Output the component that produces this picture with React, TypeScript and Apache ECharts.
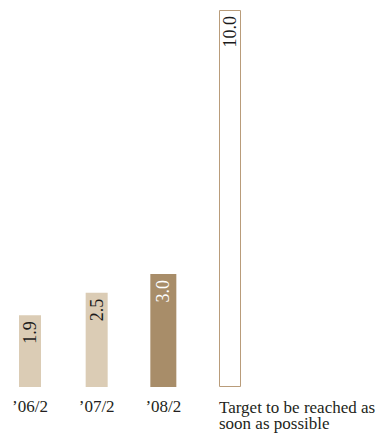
import React, { useEffect, useRef } from 'react';
import * as echarts from 'echarts';

const categories = ['’06/2', '’07/2', '’08/2', 'Target to be reached as\nsoon as possible'];
const values = [1.9, 2.5, 3.0, 10.0];
const highlightIndex = 2;

const LIGHT = '#dbccb5';
const DARK = '#a88d69';
const BORDER = '#b99c7a';
const FONT = '"Liberation Serif", "Times New Roman", serif';

export default function App() {
  const ref = useRef<HTMLDivElement>(null);
  useEffect(() => {
    const chart = echarts.init(ref.current!, null, { renderer: 'svg' });
    const labelBase = {
      show: true,
      position: 'insideTop',
      rotate: 90,
      align: 'right',
      verticalAlign: 'middle',
      distance: 6,
      fontSize: 18,
      fontFamily: FONT,
      formatter: (p: any) => Number(p.value).toFixed(1),
    };
    const mainData = values.map((v, i) => {
      if (i === highlightIndex) return '-';
      if (i === values.length - 1) {
        return {
          value: v,
          itemStyle: { color: '#ffffff', borderColor: BORDER, borderWidth: 1 },
          label: { color: '#1a1a1a' },
        };
      }
      return { value: v, itemStyle: { color: LIGHT }, label: { color: '#1a1a1a' } };
    });
    const hlData = values.map((v, i) =>
      i === highlightIndex ? { value: v, itemStyle: { color: DARK }, label: { color: '#ffffff' } } : '-'
    );
    const catData = categories.map((c, i) =>
      i === categories.length - 1
        ? { value: c, textStyle: { align: 'left', fontSize: 17, lineHeight: 16, padding: [1, 0, 0, -11] } }
        : c
    );
    chart.setOption({
      animation: false,
      grid: { left: -3.33, width: 266.67, top: 10, bottom: 46, outerBoundsMode: 'none', containLabel: false },
      xAxis: [
        {
          type: 'category',
          data: catData,
          axisLine: { show: false },
          axisTick: { show: false },
          axisLabel: {
            interval: 0,
            fontSize: 17,
            lineHeight: 17,
            margin: 11,
            color: '#231f20',
            fontFamily: FONT,
          },
        },
        { type: 'category', data: categories, show: false },
      ],
      yAxis: { type: 'value', min: 0, max: 10, show: false },
      series: [
        { type: 'bar', xAxisIndex: 0, barWidth: 22, data: mainData, label: labelBase },
        { type: 'bar', xAxisIndex: 1, barWidth: 26, data: hlData, label: labelBase },
      ],
    });
    return () => chart.dispose();
  }, []);
  return <div ref={ref} style={{ position: 'absolute', left: 0, top: 0, width: 385, height: 433 }} />;
}
